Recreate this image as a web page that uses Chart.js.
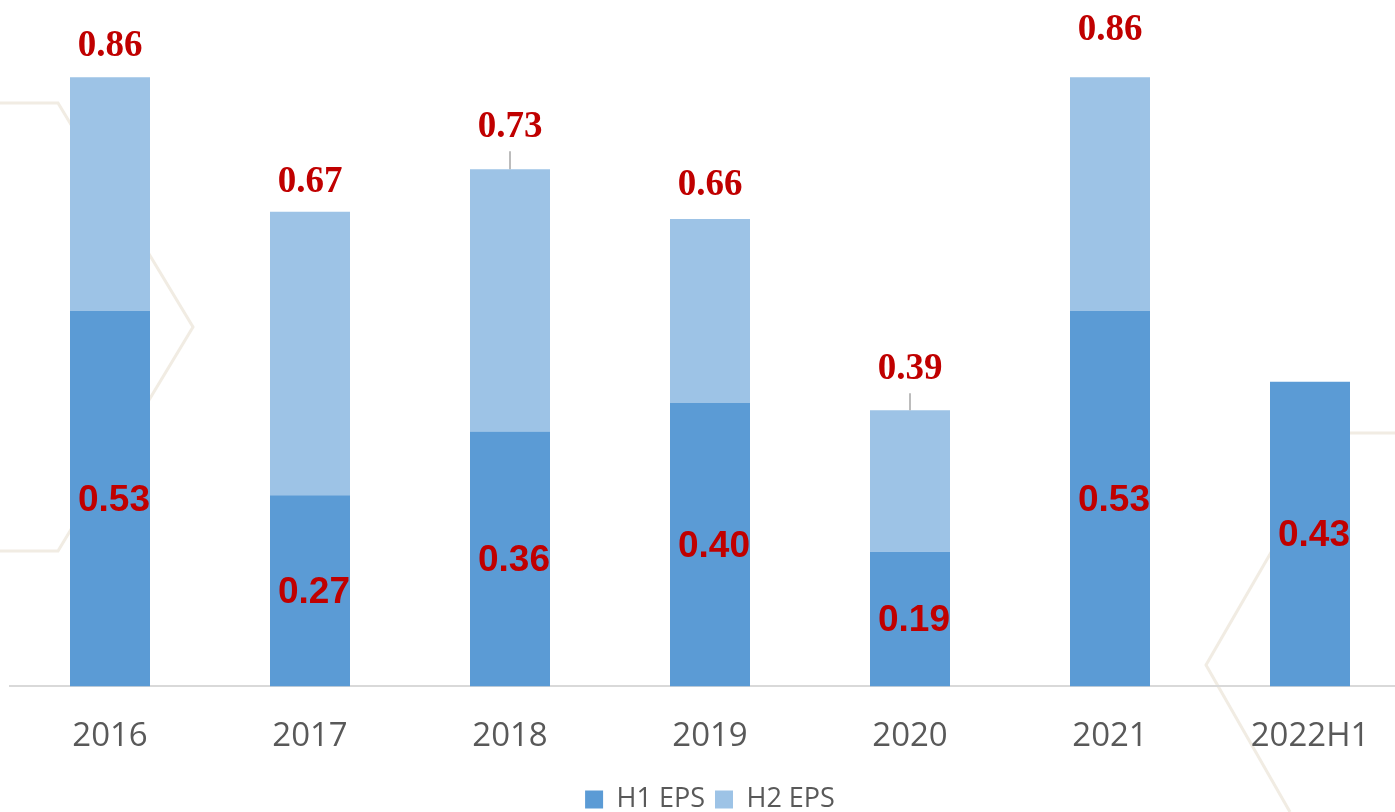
<!DOCTYPE html>
<html>
<head>
<meta charset="utf-8">
<script src="https://cdn.jsdelivr.net/npm/chart.js@4"></script>
<style>
  html, body { margin: 0; padding: 0; background: #fff; overflow: hidden; }
  #wrap { width: 1410px; height: 812px; }
</style>
</head>
<body>
<div id="wrap"><canvas id="barChart" width="1410" height="812"></canvas></div>
<script>
// EPS by half-year
const years = ["2016", "2017", "2018", "2019", "2020", "2021", "2022H1"];
const h1Eps = [0.53, 0.27, 0.36, 0.40, 0.19, 0.53, 0.43];
const h2Eps = [0.33, 0.40, 0.37, 0.26, 0.20, 0.33, null];
const totalEps = [0.86, 0.67, 0.73, 0.66, 0.39, 0.86, null];

// how far each total label sits above its bar, and which get a leader line
const totalOffsets = [31, 29, 42, 33, 41, 47, 0];
const leaderLines = [false, false, true, false, true, false, false];

const hexBackground = {
  id: "hexBackground",
  beforeDraw(chart) {
    const c = chart.ctx;
    c.save();
    c.fillStyle = "#fff";
    c.fillRect(0, 0, chart.width, chart.height);
    c.strokeStyle = "#F1ECE3";
    c.lineWidth = 3;
    c.beginPath();
    c.moveTo(0, 103); c.lineTo(58, 103); c.lineTo(193, 327); c.lineTo(58, 551); c.lineTo(0, 551);
    c.moveTo(1410, 433); c.lineTo(1340, 433); c.lineTo(1206, 665); c.lineTo(1290, 812);
    c.stroke();
    c.restore();
  }
};

const epsLabels = {
  id: "epsLabels",
  afterDatasetsDraw(chart) {
    const c = chart.ctx;
    const h1Meta = chart.getDatasetMeta(0);
    const yScale = chart.scales.y;
    c.save();
    c.textAlign = "center";
    c.textBaseline = "middle";
    // H1 values inside bars
    c.fillStyle = "#C00000";
    c.font = "bold 37px 'Liberation Sans', Arial, sans-serif";
    h1Meta.data.forEach((bar, i) => {
      const mid = (bar.y + bar.base) / 2;
      c.fillText(h1Eps[i].toFixed(2), bar.x + 4, mid + 2);
    });
    // totals above bars
    c.font = "bold 37px 'Liberation Serif', 'Times New Roman', serif";
    totalEps.forEach((v, i) => {
      if (v == null) return;
      const x = h1Meta.data[i].x;
      const top = yScale.getPixelForValue(v);
      const ty = top - totalOffsets[i];
      if (leaderLines[i]) {
        c.strokeStyle = "#A6A6A6";
        c.lineWidth = 1.5;
        c.beginPath();
        c.moveTo(x, ty + 24);
        c.lineTo(x, top);
        c.stroke();
      }
      c.fillStyle = "#C00000";
      c.fillText(v.toFixed(2), x, ty);
    });
    c.restore();
  }
};

const ctx = document.getElementById("barChart").getContext("2d");
new Chart(ctx, {
  type: "bar",
  data: {
    labels: years,
    datasets: [
      { label: "H1 EPS", data: h1Eps, backgroundColor: "#5B9BD5", barPercentage: 0.4, categoryPercentage: 1.0 },
      { label: "H2 EPS", data: h2Eps, backgroundColor: "#9DC3E6", barPercentage: 0.4, categoryPercentage: 1.0 }
    ]
  },
  options: {
    responsive: false,
    animation: false,
    layout: { padding: { left: 10, right: 0, top: 0, bottom: -11 } },
    scales: {
      x: {
        stacked: true,
        grid: { display: false, drawTicks: false },
        border: { display: true, color: "#D9D9D9", width: 2 },
        ticks: { color: "#595959", font: { family: "'Open Sans', sans-serif", size: 33 }, padding: 30 },
        afterFit: (scale) => { scale.height -= 10; }
      },
      y: {
        stacked: true,
        display: false,
        min: 0,
        max: 0.969
      }
    },
    plugins: {
      legend: {
        position: "bottom",
        labels: {
          color: "#595959",
          font: { family: "'Open Sans', sans-serif", size: 27 },
          boxWidth: 18,
          boxHeight: 18,
          padding: 10
        }
      },
      tooltip: { enabled: false }
    }
  },
  plugins: [hexBackground, epsLabels]
});
</script>
</body>
</html>
